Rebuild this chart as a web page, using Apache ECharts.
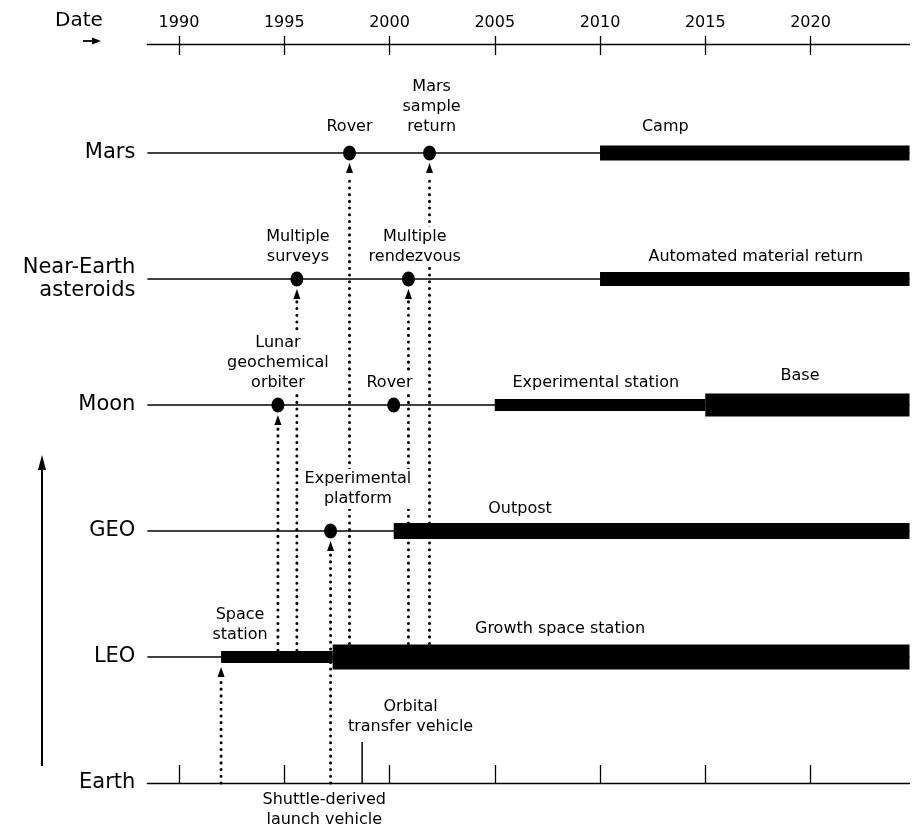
<!DOCTYPE html>
<html><head><meta charset="utf-8">
<script src="https://cdn.jsdelivr.net/npm/echarts@6/dist/echarts.min.js"></script>
<style>html,body{margin:0;padding:0;background:#fff}#c{width:913px;height:834px}</style>
</head><body><div id="c"></div>
<script>
// ---------- data ----------
const rowNames = ['Earth', 'LEO', 'GEO', 'Moon', 'Near-Earth\nasteroids', 'Mars'];
const yearTicks = [1990, 1995, 2000, 2005, 2010, 2015, 2020];
const axisStart = 1988.5;
const axisEnd = 2024.7;

// program phases: [name, row, startYear, endYear]
const phases = [
  ['Camp', 5, 2010, 2024.7],
  ['Automated material return', 4, 2010, 2024.7],
  ['Experimental station', 3, 2005, 2015],
  ['Base', 3, 2015, 2024.7],
  ['Outpost', 2, 2000.2, 2024.7],
  ['Space station', 1, 1992, 1997.3],
  ['Growth space station', 1, 1997.3, 2024.7]
];

// single missions: [name, row, year]
const milestones = [
  ['Rover', 5, 1998.1],
  ['Mars sample return', 5, 2001.9],
  ['Multiple surveys', 4, 1995.6],
  ['Multiple rendezvous', 4, 2000.9],
  ['Lunar geochemical orbiter', 3, 1994.7],
  ['Rover', 3, 2000.2],
  ['Experimental platform', 2, 1997.2]
];

// launches (dotted arrows): [year, fromRow, toRow]
const launches = [
  [1992.0, 0, 1],
  [1994.7, 1, 3],
  [1995.6, 1, 4],
  [1997.2, 0, 2],
  [1998.1, 1, 5],
  [2000.9, 1, 4],
  [2001.9, 1, 5]
];

// transport vehicle introduction on the Earth line: [name, year]
const vehicles = [['Orbital transfer vehicle', 1998.7]];

// text annotations: [text, year, row]
const annotations = [
  ['Rover', 1998.1, 5],
  ['Mars\nsample\nreturn', 2002.0, 5],
  ['Camp', 2013.1, 5],
  ['Multiple\nsurveys', 1995.65, 4],
  ['Multiple\nrendezvous', 2001.2, 4],
  ['Automated material return', 2017.4, 4],
  ['Lunar\ngeochemical\norbiter', 1994.7, 3],
  ['Rover', 2000.0, 3],
  ['Experimental station', 2009.8, 3],
  ['Base', 2019.5, 3],
  ['Experimental\nplatform', 1998.5, 2],
  ['Outpost', 2006.2, 2],
  ['Space\nstation', 1992.9, 1],
  ['Growth space station', 2008.1, 1],
  ['Orbital\ntransfer vehicle', 2001.0, 1],
  ['Shuttle-derived\nlaunch vehicle', 1996.9, 0]
];

// ---------- styles ----------
const FONT = 'DejaVu Sans';
const barThickness = {
  'Camp': 15, 'Automated material return': 14, 'Experimental station': 12,
  'Base': 23, 'Outpost': 16, 'Space station': 12, 'Growth space station': 25
};
// vertical offset (px) of each annotation block centre from its row line
const annotationDy = [-26, -46, -26, -32, -32, -22, -42, -22, -22, -29, -42, -22, -32, -28, 60, 27];

const chart = echarts.init(document.getElementById('c'));

const rowLineData = [1, 2, 3, 4, 5].map(r => [r, axisStart, axisEnd]);
const tickStyle = { color: '#000', width: 1.3 };

const option = {
  backgroundColor: '#fff',
  animation: false,
  grid: { left: 147.4, right: 3.5, top: 153, bottom: 51, containLabel: false },
  xAxis: [
    {
      type: 'value', position: 'top', offset: 109, min: axisStart, max: axisEnd,
      axisLine: { show: true, onZero: false, lineStyle: tickStyle },
      axisTick: { show: true, inside: false, length: 8, customValues: yearTicks, lineStyle: tickStyle },
      axisLabel: { show: true, customValues: yearTicks, margin: 13, color: '#000', fontFamily: FONT, fontSize: 16,
        formatter: v => String(v) },
      splitLine: { show: false }
    },
    {
      type: 'value', position: 'top', offset: 109, min: axisStart, max: axisEnd,
      axisLine: { show: false, onZero: false },
      axisTick: { show: true, inside: true, length: 11, customValues: yearTicks, lineStyle: tickStyle },
      axisLabel: { show: false }, splitLine: { show: false }
    },
    {
      type: 'value', position: 'bottom', min: axisStart, max: axisEnd,
      axisLine: { show: true, onZero: false, lineStyle: tickStyle },
      axisTick: { show: true, inside: true, length: 18, customValues: yearTicks, lineStyle: tickStyle },
      axisLabel: { show: false }, splitLine: { show: false }
    }
  ],
  yAxis: {
    type: 'value', min: 0, max: 5, interval: 1,
    axisLine: { show: false }, axisTick: { show: false }, splitLine: { show: false },
    axisLabel: {
      margin: 12, color: '#000', fontFamily: FONT, fontSize: 21, lineHeight: 23, align: 'right',
      formatter: v => rowNames[v] || ''
    }
  },
  graphic: [
    { type: 'text', left: 55, top: 11, style: { text: 'Date', font: '20px "DejaVu Sans"', fill: '#000' } },
    { type: 'line', shape: { x1: 83, y1: 41, x2: 94, y2: 41 }, style: { stroke: '#000', lineWidth: 1.8 } },
    { type: 'polygon', shape: { points: [[92, 37.5], [101, 41], [92, 44.5]] }, style: { fill: '#000' } },
    { type: 'line', shape: { x1: 42, y1: 766, x2: 42, y2: 468 }, style: { stroke: '#000', lineWidth: 2 } },
    { type: 'polygon', shape: { points: [[38, 470], [42, 455], [46, 470]] }, style: { fill: '#000' } }
  ],
  series: [
    {
      // thin row lines
      type: 'custom', name: 'rows', xAxisIndex: 0, data: rowLineData,
      encode: { x: [1, 2], y: 0 },
      renderItem: (params, api) => {
        const a = api.coord([api.value(1), api.value(0)]);
        const b = api.coord([api.value(2), api.value(0)]);
        return { type: 'line', shape: { x1: a[0], y1: a[1], x2: b[0], y2: b[1] }, style: { stroke: '#000', lineWidth: 1.3 } };
      }
    },
    {
      // dotted launch arrows
      type: 'custom', name: 'launches', xAxisIndex: 0, data: launches,
      encode: { x: 0, y: [1, 2] },
      renderItem: (params, api) => {
        const yr = api.value(0);
        const a = api.coord([yr, api.value(1)]);
        const b = api.coord([yr, api.value(2)]);
        const tip = b[1] + 10, head = 10;
        return {
          type: 'group', children: [
            { type: 'line', shape: { x1: a[0], y1: a[1], x2: a[0], y2: tip + head + 2 },
              style: { stroke: '#000', lineWidth: 3, lineDash: [0.1, 6.6], lineCap: 'round' } },
            { type: 'polygon', shape: { points: [[a[0], tip], [a[0] - 3.5, tip + head], [a[0] + 3.5, tip + head]] },
              style: { fill: '#000' } }
          ]
        };
      }
    },
    {
      // phase bars
      type: 'custom', name: 'phases', xAxisIndex: 0, data: phases.map(p => [p[1], p[2], p[3]]),
      encode: { x: [1, 2], y: 0 },
      renderItem: (params, api) => {
        const a = api.coord([api.value(1), api.value(0)]);
        const b = api.coord([api.value(2), api.value(0)]);
        const h = barThickness[phases[params.dataIndex][0]];
        return { type: 'rect', shape: { x: a[0], y: a[1] - h / 2, width: b[0] - a[0], height: h }, style: { fill: '#000' } };
      }
    },
    {
      // vehicle tick on Earth line
      type: 'custom', name: 'vehicles', xAxisIndex: 0, data: vehicles.map(v => [v[1], 0]),
      encode: { x: 0, y: 1 },
      renderItem: (params, api) => {
        const a = api.coord([api.value(0), api.value(1)]);
        return { type: 'line', shape: { x1: a[0], y1: a[1], x2: a[0], y2: a[1] - 41 }, style: { stroke: '#000', lineWidth: 1.5 } };
      }
    },
    {
      // milestone dots
      type: 'scatter', name: 'milestones', xAxisIndex: 0, symbol: 'circle', symbolSize: [13, 15],
      itemStyle: { color: '#000', opacity: 1 }, data: milestones.map(m => [m[2], m[1]])
    },
    {
      // annotations
      type: 'custom', name: 'labels', xAxisIndex: 0, data: annotations.map(a => [a[1], a[2]]),
      encode: { x: 0, y: 1 },
      renderItem: (params, api) => {
        const p = api.coord([api.value(0), api.value(1)]);
        return {
          type: 'text',
          style: {
            text: annotations[params.dataIndex][0], x: p[0], y: p[1] + annotationDy[params.dataIndex],
            align: 'center', verticalAlign: 'middle', font: '16px "DejaVu Sans"', lineHeight: 20, fill: '#000',
            backgroundColor: '#fff', padding: [0, 1]
          }
        };
      }
    }
  ]
};
chart.setOption(option);
</script></body></html>
